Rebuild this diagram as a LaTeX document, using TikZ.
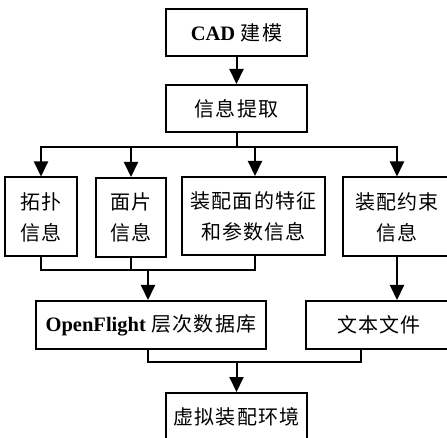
\documentclass[tikz,border=0pt]{standalone}
\usepackage{fontspec}
\setmainfont{Liberation Serif}
\newfontfamily\cjk[LetterSpace=6]{Noto Sans CJK SC}
\newcommand{\latinbold}[1]{{\fontsize{20.5}{31}\selectfont\rmfamily\bfseries #1}}
\usetikzlibrary{arrows.meta,calc}
\begin{document}
\begin{tikzpicture}[x=1pt,y=-1pt,
  box/.style={draw,line width=2pt,inner sep=0pt,align=center,font=\fontsize{20}{31}\selectfont\cjk},
  ln/.style={line width=2pt},
  arr/.style={line width=2pt,-{Triangle[width=14pt,length=15pt]}}]
\useasboundingbox (0,0) rectangle (447,438);
\clip (0,0) rectangle (447,438);
\node[box,minimum width=141pt,minimum height=47pt] (cad) at (236.5,32.5) {\latinbold{CAD} 建模};
\node[box,minimum width=141pt,minimum height=47pt] (info) at (236.5,108.5) {信息提取};
\node[box,minimum width=72pt,minimum height=79pt] (topo) at (41,217) {拓扑\\信息};
\node[box,minimum width=70pt,minimum height=79pt] (face) at (131,217.5) {面片\\信息};
\node[box,minimum width=143pt,minimum height=78pt] (feat) at (253.5,216) {装配面的特征\\和参数信息};
\node[box,minimum width=108pt,minimum height=79pt] (cons) at (397,217) {装配约束\\信息};
\node[box,minimum width=230pt,minimum height=48pt] (ofl) at (151,325) {\latinbold{OpenFlight} 层次数据库};
\node[box,minimum width=146pt,minimum height=48pt] (txt) at (379,325) {文本文件};
\node[box,minimum width=141pt,minimum height=47pt] (vr) at (236.5,416.5) {虚拟装配环境};
\draw[arr] (cad) -- (info);
\coordinate (j1) at (236.5,147);
\draw[ln] (info) -- (j1);
\draw[arr] (j1) -| (topo.north);
\draw[arr] (j1) -| (face.north);
\draw[arr] (j1) -| ($(feat.north)+(1.5,0)$);
\draw[arr] (j1) -| (cons.north);
\coordinate (j2) at (148,270);
\draw[ln] (topo.south) |- (j2);
\draw[ln] (face.south) |- (j2);
\draw[ln] ($(feat.south)+(1.5,0)$) |- (j2);
\draw[arr] (j2) -- (j2 |- ofl.north);
\draw[arr] (cons.south) -- (cons.south |- txt.north);
\coordinate (j3) at (236.5,362);
\coordinate (t3) at (361,362);
\draw[ln] (j2 |- ofl.south) |- (t3) -- (t3 |- txt.south);
\draw[arr] (j3) -- (vr.north);
\end{tikzpicture}
\end{document}
